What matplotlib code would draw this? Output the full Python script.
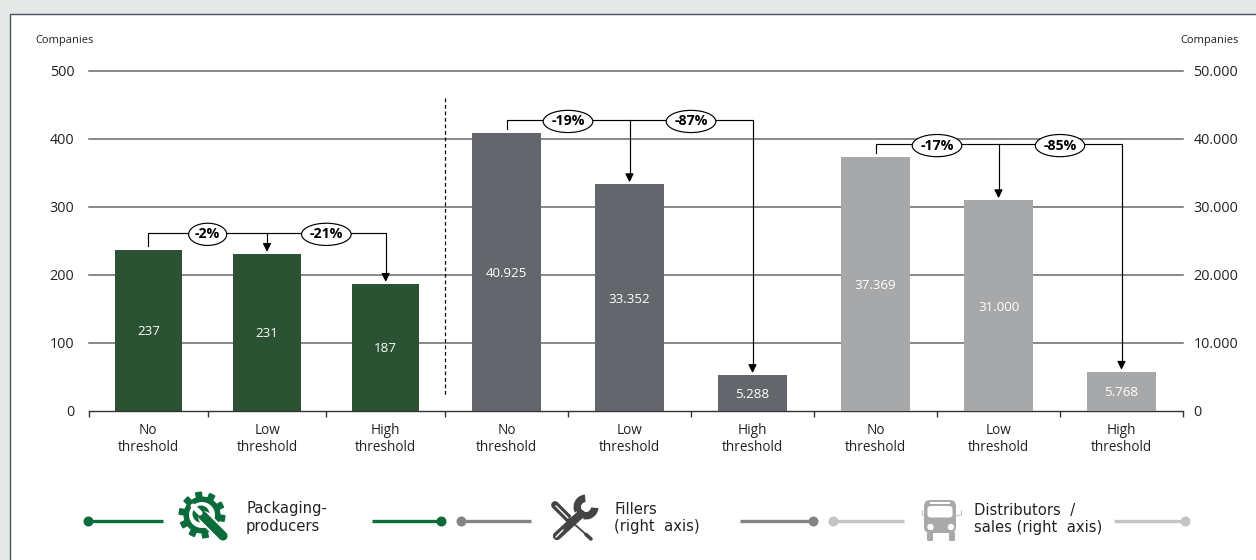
import numpy as np
import matplotlib
matplotlib.use('Agg')
import matplotlib.pyplot as plt
from matplotlib.patches import Polygon, Circle, Rectangle, FancyBboxPatch, Wedge

# chart values
categories = ['No\nthreshold', 'Low\nthreshold', 'High\nthreshold']
packaging = [237, 231, 187]
fillers = [40925, 33352, 5288]
distributors = [37369, 31000, 5768]
packaging_labels = ['237', '231', '187']
fillers_labels = ['40.925', '33.352', '5.288']
distributors_labels = ['37.369', '31.000', '5.768']
left_ticks = [0, 100, 200, 300, 400, 500]
right_ticks = [0, 10000, 20000, 30000, 40000, 50000]
right_tick_labels = ['0', '10.000', '20.000', '30.000', '40.000', '50.000']
packaging_changes = ['-2%', '-21%']
fillers_changes = ['-19%', '-87%']
distributors_changes = ['-17%', '-85%']

GREEN = '#2b5232'
DARK = '#63666a'
LIGHT = '#a7a8aa'
ICON_GREEN = '#0b6b3a'
TOOL = '#444444'
W, H = 1256, 560
X0, X1 = 89, 1183
Y0, Y1 = 411, 71
TICK_FONT = 'Open Sans'

fig = plt.figure(figsize=(W / 100, H / 100), dpi=100, facecolor='#e4e8e6')

# white panel with a dark edge on top and left
bg = fig.add_axes([0, 0, 1, 1], zorder=0)
bg.set_xlim(0, W)
bg.set_ylim(H, 0)
bg.axis('off')
bg.add_patch(Rectangle((9.5, 13.5), W, H, fc='white', ec='#46525e', lw=1.0))

ax = fig.add_axes([X0 / W, 1 - Y0 / H, (X1 - X0) / W, (Y0 - Y1) / H], zorder=1)
ax.patch.set_alpha(0)
ax.set_xlim(X0, X1)
ax.set_ylim(0, 500)
ax2 = ax.twinx()
ax2.set_ylim(0, 50000)

ax.set_yticks(left_ticks)
ax2.set_yticks(right_ticks)
ax2.set_yticklabels(right_tick_labels)
for a in (ax, ax2):
    for s in a.spines.values():
        s.set_visible(False)
    a.tick_params(axis='y', length=0, labelsize=10.4, colors='#222222')
    for t in a.get_yticklabels():
        t.set_fontfamily(TICK_FONT)
ax.tick_params(axis='y', pad=10.5)
ax2.tick_params(axis='y', pad=7.5)

for v in left_ticks[1:]:
    ax.axhline(v, color='#686868', lw=1.1, zorder=1, clip_on=False)
ax.spines['bottom'].set_visible(True)
ax.spines['bottom'].set_color('#333333')
ax.spines['bottom'].set_linewidth(1.0)

# slots along the x axis: three slightly narrower on the left
edges = list(np.linspace(89, 445, 4)) + list(np.linspace(445, 1183, 7))[1:]
centres = [(edges[i] + edges[i + 1]) / 2 for i in range(9)]
ax.set_xticks(edges)
ax.set_xticklabels([])
ax.tick_params(axis='x', direction='out', length=4, width=1, color='#333333')
for c, lab in zip(centres, categories * 3):
    ax.annotate(lab, (c, 0), xytext=(0, -9), textcoords='offset points', ha='center', va='top',
                fontsize=9.8, family=TICK_FONT, color='#222222', linespacing=1.12, annotation_clip=False)

ax.bar(centres[:3], packaging, 67.5, color=GREEN, zorder=2)
ax2.bar(centres[3:6], fillers, 68.5, color=DARK, zorder=2)
ax2.bar(centres[6:9], distributors, 68.5, color=LIGHT, zorder=2)


def bar_labels(a, xs, vals, texts):
    for x, v, t in zip(xs, vals, texts):
        a.text(x, v / 2, t, ha='center', va='center_baseline', color='white', fontsize=9.6,
               family=TICK_FONT, zorder=5)


bar_labels(ax, centres[:3], packaging, packaging_labels)
bar_labels(ax2, centres[3:6], fillers, fillers_labels)
bar_labels(ax2, centres[6:9], distributors, distributors_labels)


def bracket(a, xs, vals, level, gap, texts):
    # line from the first bar over to the other two, ending in arrowheads
    a.plot([xs[0], xs[0], xs[2], xs[2]], [vals[0] + gap, level, level, vals[2] + gap * 1.3],
           color='black', lw=0.85, zorder=6, solid_joinstyle='miter')
    a.plot([xs[1], xs[1]], [level, vals[1] + gap * 1.3], color='black', lw=0.85, zorder=6)
    for x, v in zip(xs[1:], vals[1:]):
        a.annotate('', xy=(x, v + gap * 0.5), xytext=(x, v + gap * 2.5),
                   arrowprops=dict(arrowstyle='-|>,head_width=0.25,head_length=0.5', color='black',
                                   lw=0.85, shrinkA=0, shrinkB=0), zorder=7)
    for x, t in zip(((xs[0] + xs[1]) / 2, (xs[1] + xs[2]) / 2), texts):
        a.text(x, level, t, ha='center', va='center_baseline', fontsize=10.2, fontweight='bold',
               family=TICK_FONT, color='black', zorder=8,
               bbox=dict(boxstyle='ellipse,pad=0.06', fc='white', ec='black', lw=0.85))


bracket(ax, centres[:3], packaging, 262, 6, packaging_changes)
bracket(ax2, centres[3:6], fillers, 42800, 600, fillers_changes)
bracket(ax2, centres[6:9], distributors, 39250, 600, distributors_changes)

# divider between the left and right axis groups
ov = fig.add_axes([0, 0, 1, 1], zorder=3)
ov.set_xlim(0, W)
ov.set_ylim(H, 0)
ov.axis('off')
ov.patch.set_alpha(0)
ov.plot([444.5, 444.5], [98, 397], color='black', lw=0.9, ls=(0, (3, 2.2)))

ov.text(35, 40, 'Companies', fontsize=8, family=TICK_FONT, color='#222222', va='center')
ov.text(1239, 40, 'Companies', fontsize=8, family=TICK_FONT, color='#222222', va='center', ha='right')

# legend strokes
legend_y = 521
strokes = [(163, 88, ICON_GREEN), (372, 441, ICON_GREEN), (531, 461, '#848484'),
           (740, 813, '#848484'), (904, 833, '#c4c4c4'), (1114, 1185, '#c4c4c4')]
for start, end, col in strokes:
    ov.plot([start, end], [legend_y, legend_y], color=col, lw=2.4, solid_capstyle='butt')
    ov.plot([end], [legend_y], 'o', color=col, ms=7.2, mew=0)

for x, y, t in [(246, 517.5, 'Packaging-\nproducers'), (614, 518, 'Fillers\n(right  axis)'),
                (974, 519, 'Distributors  /\nsales (right  axis)')]:
    ov.text(x, y, t, fontsize=10.6, family='DejaVu Sans', color='#222222', va='center', linespacing=1.2)


# gear with wrench
cx, cy = 202, 515
ang = np.linspace(0, 2 * np.pi, 481)
rad = 18.5 + 5 * np.clip(np.sin(ang * 10) * 3 + 0.8, 0, 1)
ov.add_patch(Polygon(np.c_[cx + rad * np.cos(ang), cy + rad * np.sin(ang)], fc=ICON_GREEN, ec='none'))
ov.add_patch(Circle((cx, cy), 13, fc='white', ec='none'))
ov.plot([cx + 3, 223], [cy + 3, 536], color='white', lw=9.5, solid_capstyle='round')
ov.plot([cx + 1, 223], [cy + 1, 536], color=ICON_GREEN, lw=6.6, solid_capstyle='round')
ov.add_patch(Circle((cx - 1, cy - 1), 8.5, fc=ICON_GREEN, ec='none'))
ov.plot([cx - 9, cx - 2], [cy - 9, cy - 2], color='white', lw=3.6, solid_capstyle='round')

# crossed screwdriver and wrench
ov.plot([555, 572], [505, 522], color=TOOL, lw=5.6, solid_capstyle='round')
ov.plot([556, 568], [506, 518], color='white', lw=1.0, solid_capstyle='round')
ov.plot([572, 590], [522, 538], color=TOOL, lw=1.3)
ov.plot([586, 591], [534.5, 539], color=TOOL, lw=2.6, solid_capstyle='round')
ov.plot([574, 580], [521, 515], color='white', lw=7.5, solid_capstyle='butt')
ov.plot([557, 581], [536, 514], color=TOOL, lw=6, solid_capstyle='round')
ov.plot([556, 563], [537, 530], color='white', lw=1.0, solid_capstyle='round')
ov.add_patch(Wedge((586, 507), 12.5, 5, 265, width=7.5, fc=TOOL, ec='none'))

# bus
bus = '#a9a9a9'
ov.add_patch(FancyBboxPatch((924, 500), 32, 33, boxstyle='round,pad=0,rounding_size=6', fc=bus, ec='none'))
ov.add_patch(FancyBboxPatch((927.5, 506), 25, 11.5, boxstyle='round,pad=0,rounding_size=3', fc='white', ec='none'))
ov.add_patch(Rectangle((930, 502.2), 20, 1.3, fc='white', ec='none'))
for bx in (930.5, 951):
    ov.add_patch(Circle((bx, 527), 3.2, fc='white', ec='none'))
for bx in (927, 949):
    ov.add_patch(FancyBboxPatch((bx, 532), 6, 9, boxstyle='round,pad=0,rounding_size=1.5', fc=bus, ec='none'))
ov.plot([922.5, 922.5, 924], [511, 515, 516], color='#c4c4c4', lw=0.8)
ov.plot([961.5, 961.5, 956], [511, 515, 516], color='#c4c4c4', lw=0.8)

fig.savefig('out.png', dpi=100, facecolor=fig.get_facecolor())
